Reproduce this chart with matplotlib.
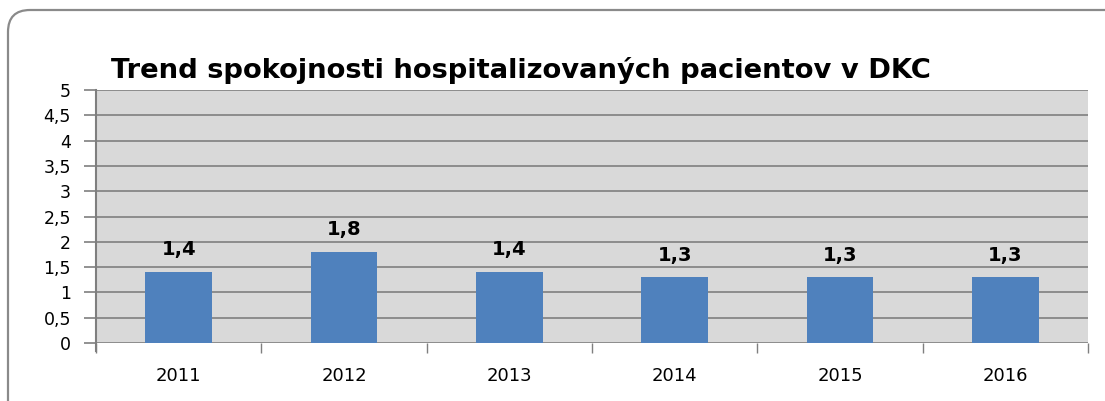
import matplotlib.pyplot as plt
from matplotlib.patches import FancyBboxPatch
from matplotlib.transforms import IdentityTransform

years = ["2011", "2012", "2013", "2014", "2015", "2016"]
values = [1.4, 1.8, 1.4, 1.3, 1.3, 1.3]
yticks = [0, 0.5, 1, 1.5, 2, 2.5, 3, 3.5, 4, 4.5, 5]

plt.rcParams['font.family'] = ['DejaVu Sans']

fig = plt.figure(figsize=(11.05, 4.01), dpi=100)

# rounded outer frame in pixels (runs off the right and bottom edges)
frame = FancyBboxPatch((8, -25), 1130, 416,
                       boxstyle="round,pad=0,rounding_size=22",
                       transform=IdentityTransform(), fill=False,
                       edgecolor="#8a8a8a", linewidth=1.6)
fig.patches.append(frame)

ax = fig.add_axes([96 / 1105, 58 / 401, 992 / 1105, 253 / 401])
ax.set_facecolor("#d9d9d9")

x = range(len(years))
ax.bar(x, values, width=0.405, color="#4f81bd", zorder=3)
for xi, v in zip(x, values):
    ax.text(xi, v + 0.33, f"{v:.1f}".replace(".", ","), ha="center", va="baseline",
            fontsize=14, fontweight="bold", color="black")

ax.set_xlim(-0.5, len(years) - 0.5)
ax.set_ylim(0, 5)
ax.set_yticks(yticks)
ax.set_yticklabels([f"{t:g}".replace(".", ",") for t in yticks], fontsize=12.5)
ax.set_xticks(list(x))
ax.set_xticklabels(years, fontsize=13)
ax.set_xticks([i + 0.5 for i in range(-1, len(years))], minor=True)
ax.tick_params(axis="x", which="major", length=0, pad=17)
ax.tick_params(axis="x", which="minor", length=7, color="#7f7f7f", width=1)
ax.tick_params(axis="y", length=9, color="#7f7f7f", width=1.2, pad=9)

ax.grid(axis="y", color="#868686", linewidth=1.3, zorder=1)
for s in ["top", "right", "bottom"]:
    ax.spines[s].set_visible(False)
ax.spines["left"].set_color("#7f7f7f")
ax.spines["left"].set_linewidth(1.5)
ax.spines["left"].set_bounds(-0.15, 5)

fig.text(111 / 1105, 1 - 78 / 401, "Trend spokojnosti hospitalizovaných pacientov v DKC",
         fontsize=19.7, fontweight="bold", ha="left", va="baseline")

fig.savefig("out.png", dpi=100)
